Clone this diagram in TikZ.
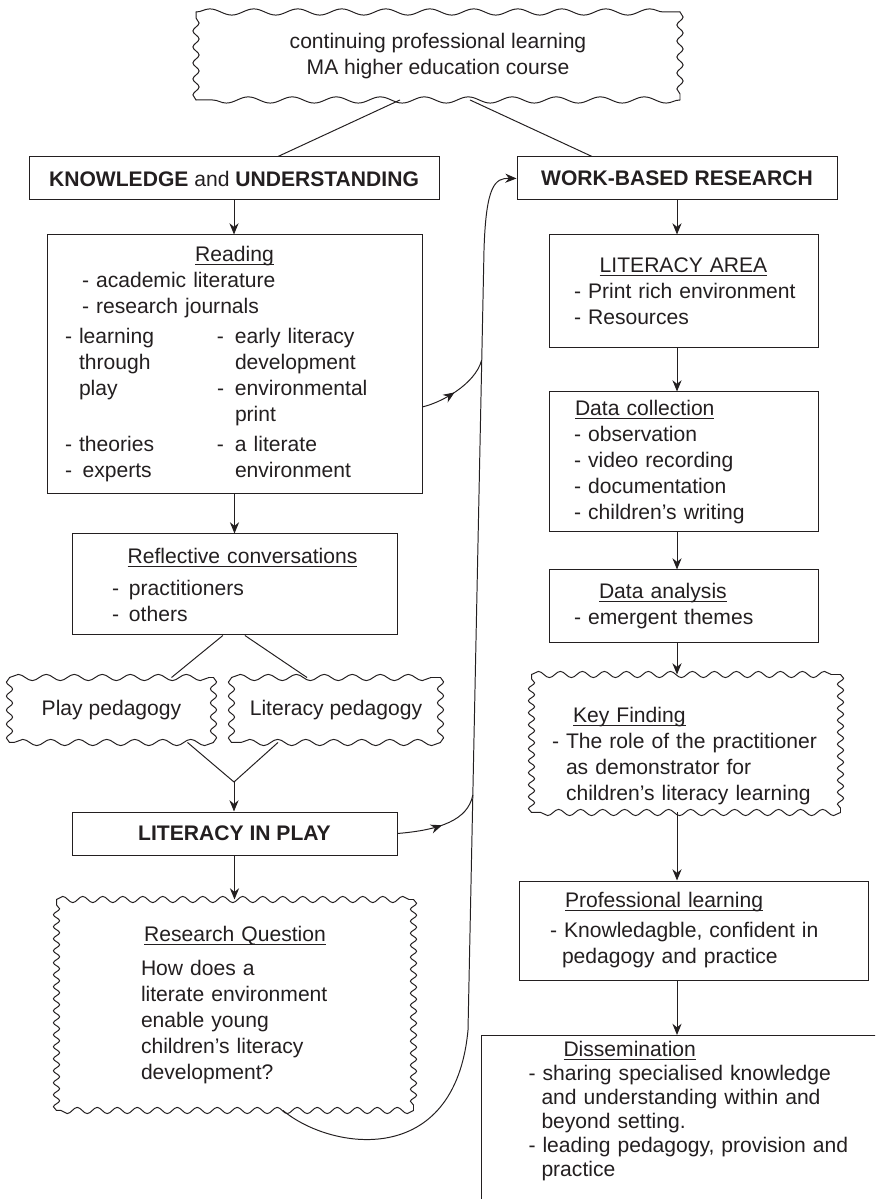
\documentclass[tikz,border=0pt]{standalone}
\usepackage{fontspec}
\setmainfont{Liberation Sans}
\usetikzlibrary{arrows.meta,decorations.pathmorphing,decorations.markings}
\definecolor{LPInk}{HTML}{231F20}
\newcommand\lpul[1]{\setbox0\hbox{#1}\rlap{\rule[-2.4pt]{\wd0}{.6pt}}\box0}
% wavy frame round a named node: node, wave along top/bottom, wave along sides
\newcommand\lpwavy[3]{%
  \draw[lpwave=#2] (#1.north west) -- (#1.north east);
  \draw[lpwave=#3] (#1.north east) -- (#1.south east);
  \draw[lpwave=#2] (#1.south east) -- (#1.south west);
  \draw[lpwave=#3] (#1.south west) -- (#1.north west);}

\tikzset{
  lpbox/.style={draw=LPInk,line width=.7pt,inner sep=0pt,align=left,text=LPInk},
  lpcloud/.style={lpbox,draw=none},
  lpline/.style={draw=LPInk,line width=.7pt},
  lpwave/.style={lpline,line cap=round,decorate,decoration={snake,segment length=#1,amplitude=2.2pt}},
  lpwave/.default=.6cm,
  lparrow/.style={lpline,-{Stealth[length=8pt,width=6.5pt]}},
  lpmid/.style={postaction={decorate,decoration={markings,mark=at position #1 with {\arrow{Stealth[length=8pt,width=6.5pt]}}}}},
}

\begin{document}
\begin{tikzpicture}[x=1cm,y=1cm,every node/.style={font=\fontsize{15}{18.5}\selectfont}]
\path[use as bounding box] (0,0) rectangle (21.875,29.975);
\clip (0,0) rectangle (21.875,29.975);

% top of the course
\node[lpcloud,align=center,minimum width=12.075cm,minimum height=2.175cm] (cpl) at (10.95,28.575)
  {continuing professional learning\\MA higher education course};
\lpwavy{cpl}{1.1cm}{.4cm}
\node[lpbox,align=center,minimum width=10.25cm,minimum height=1.075cm] (ku) at (5.85,25.5125)
  {\textbf{KNOWLEDGE} and \textbf{UNDERSTANDING}};
\node[lpbox,align=center,minimum width=8cm,minimum height=1.075cm] (wbr) at (16.925,25.5125)
  {\textbf{WORK-BASED RESEARCH}};
\draw[lpline] ([xshift=-.95cm]cpl.south) -- ([xshift=1.1cm]ku.north);
\draw[lpline] ([xshift=.8cm]cpl.south) -- ([xshift=-2.125cm]wbr.north);

% left column
\node[lpbox,text width=9.375cm,minimum height=6.475cm] (reading) at (5.8625,20.8625)
  {\makebox[9.375cm]{\lpul{Reading}}\\
   \hspace*{.875cm}- academic literature\\
   \hspace*{.875cm}- research journals\\[.1cm]
   \hspace*{.45cm}\makebox[3.8cm][l]{- learning}\makebox[.45cm][l]{-}early literacy\\
   \hspace*{.8cm}\makebox[3.45cm][l]{through}\hspace*{.45cm}development\\
   \hspace*{.8cm}\makebox[3.45cm][l]{play}\makebox[.45cm][l]{-}environmental\\
   \hspace*{4.7cm}print\\[.1cm]
   \hspace*{.45cm}\makebox[3.8cm][l]{- theories}\makebox[.45cm][l]{-}a literate\\
   \hspace*{.45cm}\makebox[3.8cm][l]{- \,experts}\hspace*{.45cm}environment};
\node[lpbox,text width=8.125cm,minimum height=2.525cm] (rc) at (5.8625,15.3625)
  {\makebox[8.125cm]{\hspace*{.4cm}\lpul{Reflective conversations}}\\[.15cm]
   \hspace*{1cm}\makebox[.425cm][l]{-}practitioners\\
   \hspace*{1cm}\makebox[.425cm][l]{-}others};
\node[lpcloud,align=center,minimum width=5.075cm,minimum height=1.6cm] (playped) at (2.7875,12.225)
  {Play pedagogy};
\lpwavy{playped}{.7cm}{.35cm}
\node[lpcloud,align=center,minimum width=5.2cm,minimum height=1.6cm] (litped) at (8.4,12.225)
  {Literacy pedagogy};
\lpwavy{litped}{.7cm}{.35cm}
\coordinate (meet) at (5.85,10.425);
\node[lpbox,align=center,minimum width=8.125cm,minimum height=1.075cm] (lip) at (5.8625,9.1375)
  {\textbf{LITERACY IN PLAY}};
\node[lpcloud,text width=8.9cm,minimum height=5.25cm] (rq) at (5.875,4.85)
  {\makebox[8.9cm]{\lpul{Research Question}}\\[.2cm]
   \hspace*{2.1cm}How does a\\
   \hspace*{2.1cm}literate environment\\
   \hspace*{2.1cm}enable young\\
   \hspace*{2.1cm}children's literacy\\
   \hspace*{2.1cm}development?};
\lpwavy{rq}{.5cm}{.3cm}

\draw[lparrow] (ku.south) -- (ku.south |- reading.north);
\draw[lparrow] (reading.south) -- (reading.south |- rc.north);
\draw[lpline] ([xshift=-.29cm]rc.south) -- ([xshift=1.5cm]playped.north);
\draw[lpline] ([xshift=.26cm]rc.south) -- ([xshift=-.725cm]litped.north);
\draw[lpline] ([xshift=1.9cm]playped.south) -- (meet) -- ([xshift=-1.45cm]litped.south);
\draw[lparrow] (meet) -- (meet |- lip.north);
\draw[lparrow] (lip.south) -- (lip.south |- rq.north);

% right column
\node[lpbox,text width=6.725cm,minimum height=2.825cm] (la) at (17.0875,22.6875)
  {\makebox[6.725cm]{\lpul{LITERACY AREA}}\\
   \hspace*{.625cm}- Print rich environment\\
   \hspace*{.625cm}- Resources};
\node[lpbox,text width=6.725cm,minimum height=3.5cm] (dc) at (17.0875,18.425)
  {\hspace*{.65cm}\lpul{Data collection}\\
   \hspace*{.625cm}- observation\\
   \hspace*{.625cm}- video recording\\
   \hspace*{.625cm}- documentation\\
   \hspace*{.625cm}- children's writing};
\node[lpbox,text width=6.725cm,minimum height=1.825cm] (da) at (17.0875,14.8125)
  {\hspace*{1.25cm}\lpul{Data analysis}\\
   \hspace*{.625cm}- emergent themes};
\node[lpcloud,text width=7.7cm,minimum height=3.425cm] (kf) at (17.15,11.3875)
  {\rule{0pt}{1cm}\hspace*{1.025cm}\lpul{Key Finding}\\
   \hspace*{.5cm}- The role of the practitioner\\
   \hspace*{.85cm}as demonstrator for\\
   \hspace*{.85cm}children's literacy learning};
\lpwavy{kf}{.55cm}{.3cm}
\node[lpbox,text width=8.725cm,minimum height=2.475cm] (pl) at (17.3375,6.7125)
  {\hspace*{1.15cm}\lpul{Professional learning}\\[.1cm]
   \hspace*{.775cm}- Knowledagble, confident in\\
   \hspace*{1.075cm}pedagogy and practice};
\node[lpbox,draw=none,anchor=north west,text width=9.6cm,inner ysep=.15cm,font=\fontsize{15}{17}\selectfont] (diss) at (12.025,4.1)
  {\hspace*{2.05cm}\lpul{Dissemination}\\
   \hspace*{1.175cm}- sharing specialised knowledge\\
   \hspace*{1.5cm}and understanding within and\\
   \hspace*{1.5cm}beyond setting.\\
   \hspace*{1.175cm}- leading pedagogy, provision and\\
   \hspace*{1.5cm}practice};
\draw[lpline] ([yshift=-2cm]diss.south west) |- ([xshift=2cm]diss.north east);

\draw[lparrow] (wbr.south) -- (wbr.south |- la.north);
\draw[lparrow] (la.south -| wbr) -- (dc.north -| wbr);
\draw[lparrow] (dc.south -| wbr) -- (da.north -| wbr);
\draw[lparrow] (da.south -| wbr) -- (kf.north -| wbr);
\draw[lparrow] (kf.south -| wbr) -- (pl.north -| wbr);
\draw[lparrow] (pl.south -| wbr) -- (diss.north -| wbr);

% the long way back up
\coordinate (joinR) at (12.0425,20.975);
\coordinate (joinL) at (11.82,10.10);
\draw[lparrow] ([xshift=1.2cm]rq.south) .. controls (8.25,1.225) and (11.375,.725) .. (11.7,4.225)
  -- (12.1,23.725) .. controls (12.15,25.35) and (12.375,25.525) .. (wbr.west);
\draw[lpline,lpmid=.45] ([yshift=-1.06cm]reading.east) .. controls (11.0,19.9) and (11.875,20.35) .. (joinR);
\draw[lpline,lpmid=.5] (lip.east) .. controls (11.0,9.225) and (11.7,9.475) .. (joinL);
\end{tikzpicture}
\end{document}
